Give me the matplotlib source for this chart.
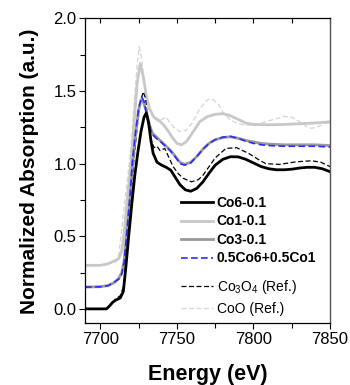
import matplotlib
matplotlib.use("Agg")
import matplotlib.pyplot as plt
from matplotlib.ticker import MultipleLocator

plt.rcParams['font.family'] = ['Liberation Sans', 'DejaVu Sans']
plt.rcParams['mathtext.fontset'] = 'custom'
plt.rcParams['mathtext.rm'] = 'Liberation Sans'

# ---- data ----
co6_e = [7690, 7704, 7706, 7708, 7710, 7713, 7715, 7716.5, 7718.5, 7720.5, 7722.5, 7724.5,
         7726.5, 7728.5, 7730, 7731.5, 7733, 7734.5, 7737, 7740, 7743, 7746, 7749, 7752,
         7755.5, 7759, 7763, 7767, 7771, 7775, 7780, 7785, 7790, 7795, 7800, 7805, 7810,
         7815, 7820, 7825, 7830, 7835, 7840, 7845, 7850]
co6_y = [0.0, 0.0, 0.02, 0.045, 0.06, 0.075, 0.12, 0.27, 0.50, 0.72, 0.92, 1.08,
         1.22, 1.32, 1.35, 1.28, 1.16, 1.07, 1.01, 0.99, 0.975, 0.955, 0.905, 0.855,
         0.82, 0.81, 0.83, 0.875, 0.935, 0.99, 1.03, 1.048, 1.047, 1.03, 1.005, 0.98, 0.965,
         0.958, 0.958, 0.962, 0.97, 0.975, 0.975, 0.965, 0.945]

co1_e = [7690, 7700, 7705, 7710, 7712, 7714, 7715.5, 7717.5, 7720, 7722, 7724, 7726,
         7728, 7730, 7732, 7735, 7738, 7741, 7744, 7747, 7750, 7753, 7756, 7760, 7765,
         7770, 7775, 7780, 7785, 7790, 7795, 7800, 7810, 7820, 7830, 7840, 7850]
co1_y = [0.30, 0.30, 0.31, 0.335, 0.345, 0.40, 0.52, 0.75, 1.0, 1.28, 1.55, 1.69,
         1.60, 1.47, 1.38, 1.32, 1.30, 1.27, 1.23, 1.18, 1.14, 1.13, 1.15, 1.21, 1.29,
         1.325, 1.34, 1.345, 1.33, 1.305, 1.28, 1.27, 1.268, 1.27, 1.275, 1.28, 1.288]

co3_e = [7690, 7700, 7705, 7709, 7712, 7714, 7715.5, 7717.5, 7719.5, 7721, 7723, 7725,
         7726.5, 7728, 7730, 7732, 7734, 7737, 7740, 7743, 7746, 7749, 7752, 7755, 7759,
         7763, 7767, 7771, 7775, 7780, 7785, 7790, 7795, 7800, 7805, 7810, 7820, 7830,
         7840, 7850]
co3_y = [0.15, 0.153, 0.16, 0.18, 0.21, 0.25, 0.33, 0.55, 0.78, 1.0, 1.2, 1.37,
         1.44, 1.43, 1.36, 1.27, 1.21, 1.18, 1.15, 1.12, 1.09, 1.05, 1.01, 0.995, 1.01,
         1.05, 1.10, 1.14, 1.165, 1.18, 1.185, 1.175, 1.16, 1.15, 1.14, 1.135, 1.13, 1.13,
         1.13, 1.125]

mix_e = [7690, 7700, 7705, 7709, 7712, 7714, 7715.5, 7717.5, 7719.5, 7721, 7723, 7725,
         7727, 7728.5, 7730, 7732, 7734, 7737, 7740, 7743, 7746, 7749, 7752, 7755, 7759,
         7763, 7767, 7771, 7775, 7780, 7785, 7790, 7795, 7800, 7805, 7810, 7820, 7830,
         7840, 7850]
mix_y = [0.15, 0.152, 0.16, 0.185, 0.205, 0.24, 0.32, 0.55, 0.80, 1.02, 1.22, 1.38,
         1.46, 1.43, 1.35, 1.26, 1.20, 1.17, 1.145, 1.115, 1.085, 1.045, 1.0, 0.99, 1.005,
         1.05, 1.10, 1.14, 1.165, 1.183, 1.188, 1.175, 1.155, 1.14, 1.13, 1.125, 1.12, 1.12,
         1.12, 1.115]

co3o4_e = [7690, 7704, 7707, 7710, 7713, 7715, 7717, 7719.5, 7721.7, 7724, 7726, 7728,
           7729.5, 7731, 7733, 7735, 7737, 7739, 7742, 7744, 7747.5, 7751, 7754, 7759.5,
           7764, 7767, 7771, 7775, 7782, 7789, 7797, 7803, 7808, 7817, 7828, 7838, 7844, 7850]
co3o4_y = [0.0, 0.0, 0.03, 0.07, 0.09, 0.15, 0.35, 0.68, 1.0, 1.25, 1.42, 1.495,
           1.45, 1.30, 1.17, 1.11, 1.12, 1.09, 1.105, 1.06, 0.98, 0.93, 0.90, 0.875,
           0.89, 0.92, 0.98, 1.04, 1.105, 1.11, 1.07, 1.03, 1.0, 0.995, 1.013, 1.02, 1.01, 0.98]

coo_e = [7690, 7700, 7705, 7710, 7712, 7714, 7716, 7718, 7720, 7722, 7724, 7725.4,
         7727, 7728.5, 7730, 7732, 7735, 7738, 7741, 7743, 7745, 7748, 7752, 7756, 7760,
         7765, 7770, 7773, 7777, 7781, 7785, 7790, 7795, 7800, 7805, 7810, 7815, 7820,
         7825, 7830, 7835, 7838, 7842, 7846, 7850]
coo_y = [0.30, 0.30, 0.31, 0.32, 0.37, 0.55, 0.75, 0.92, 1.12, 1.40, 1.68, 1.805,
         1.72, 1.58, 1.47, 1.38, 1.31, 1.29, 1.31, 1.32, 1.29, 1.25, 1.22, 1.23, 1.28,
         1.38, 1.44, 1.445, 1.41, 1.34, 1.30, 1.275, 1.265, 1.268, 1.28, 1.295, 1.31, 1.325,
         1.32, 1.29, 1.255, 1.243, 1.255, 1.275, 1.285]

x_ticks = [7700, 7750, 7800, 7850]
y_ticks = [0.0, 0.5, 1.0, 1.5, 2.0]

# ---- figure ----
fig = plt.figure(figsize=(3.5, 3.85), dpi=100)
ax = fig.add_axes([0.243, 0.160, 0.700, 0.792])

l_coo, = ax.plot(coo_e, coo_y, color='#d4d4d4', lw=0.9, ls=(0, (4, 2)), label='CoO (Ref.)')
l_co1, = ax.plot(co1_e, co1_y, color='#c8c8c8', lw=2.0, label='Co1-0.1')
l_co3o4, = ax.plot(co3o4_e, co3o4_y, color='black', lw=0.9, ls=(0, (4, 2)),
                   label='Co$_\\mathregular{3}$O$_\\mathregular{4}$ (Ref.)')
l_co3, = ax.plot(co3_e, co3_y, color='#999999', lw=2.0, label='Co3-0.1')
l_mix, = ax.plot(mix_e, mix_y, color='#2b2bff', lw=1.2, ls=(0, (4, 2)), label='0.5Co6+0.5Co1')
l_co6, = ax.plot(co6_e, co6_y, color='black', lw=2.0, label='Co6-0.1')

ax.set_xlim(7690, 7850)
ax.set_ylim(-0.1, 2.0)
ax.set_xticks(x_ticks)
ax.set_yticks(y_ticks)
ax.set_yticklabels([f'{v:.1f}' for v in y_ticks])
ax.xaxis.set_minor_locator(MultipleLocator(25))
ax.yaxis.set_minor_locator(MultipleLocator(0.25))
ax.tick_params(axis='both', which='major', direction='out', length=4.5, width=0.8,
               labelsize=12, pad=1.5, top=False, right=False)
ax.tick_params(axis='both', which='minor', direction='out', length=3.5, width=0.8,
               top=False, right=False)

sec = ax.secondary_xaxis('top')
sec.set_xticks(x_ticks)
sec.xaxis.set_minor_locator(MultipleLocator(25))
sec.tick_params(which='both', direction='in', length=3.5, width=0.8, labeltop=False)
sec.spines['top'].set_visible(False)

for s in ['left', 'bottom', 'top']:
    ax.spines[s].set_linewidth(0.9)
ax.spines['right'].set_color('#555555')
ax.spines['right'].set_linewidth(1.0)

ax.set_xlabel('Energy (eV)', fontsize=15.5, fontweight='bold', labelpad=12.5)
ax.set_ylabel('Normalized Absorption (a.u.)', fontsize=15, fontweight='bold', labelpad=10.5)

leg1 = ax.legend(handles=[l_co6, l_co1, l_co3, l_mix], loc='upper left',
                 bbox_to_anchor=(0.39, 0.4177), frameon=False,
                 prop={'size': 10, 'weight': 'bold'}, handlelength=2.3,
                 handletextpad=0.3, labelspacing=0.32, borderpad=0, borderaxespad=0)
ax.add_artist(leg1)
leg2 = ax.legend(handles=[l_co3o4, l_coo], loc='upper left',
                 bbox_to_anchor=(0.39, 0.149), frameon=False,
                 prop={'size': 10}, handlelength=2.3,
                 handletextpad=0.3, labelspacing=0.45, borderpad=0, borderaxespad=0)

fig.savefig('out.png', dpi=100)
